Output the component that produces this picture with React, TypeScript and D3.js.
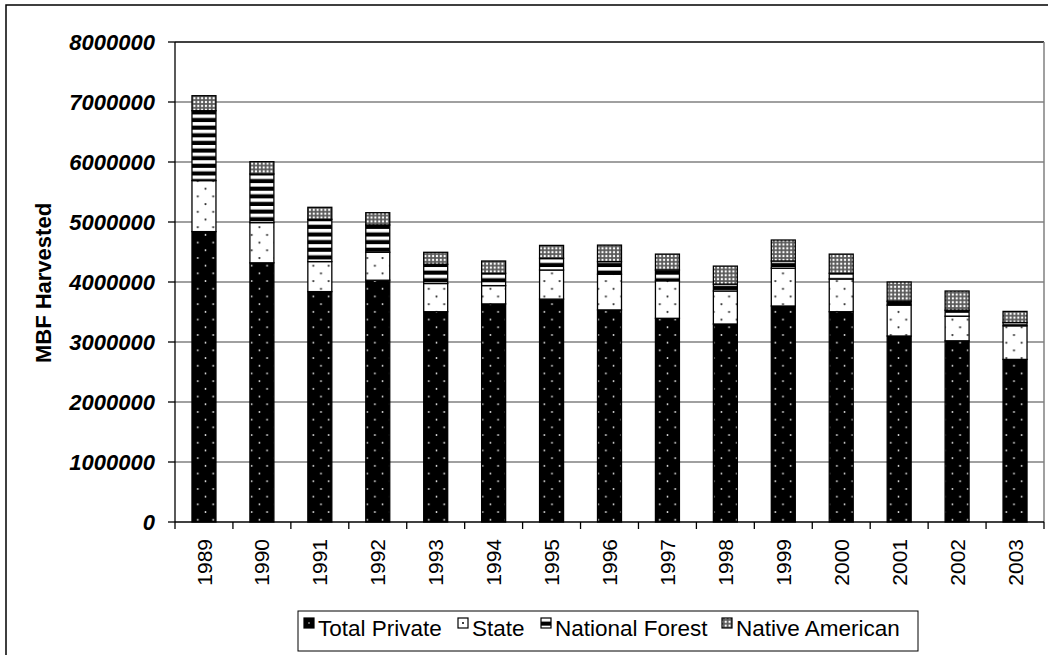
import React from "react";
import * as d3 from "d3";

// Annual timber harvest (MBF) by ownership class
const years = ["1989", "1990", "1991", "1992", "1993", "1994", "1995", "1996", "1997", "1998", "1999", "2000", "2001", "2002", "2003"];
const totalPrivate = [4840000, 4320000, 3840000, 4030000, 3505000, 3635000, 3715000, 3535000, 3395000, 3300000, 3600000, 3505000, 3100000, 3020000, 2710000];
const stateLand = [850000, 670000, 500000, 465000, 470000, 305000, 485000, 595000, 625000, 550000, 630000, 545000, 515000, 410000, 560000];
const nationalForest = [1165000, 810000, 705000, 455000, 320000, 205000, 195000, 210000, 180000, 115000, 120000, 95000, 65000, 100000, 55000];
const nativeAmerican = [250000, 205000, 200000, 205000, 200000, 205000, 215000, 275000, 265000, 300000, 350000, 320000, 320000, 320000, 185000];
const seriesNames = ["Total Private", "State", "National Forest", "Native American"];
const yTicks = [0, 1000000, 2000000, 3000000, 4000000, 5000000, 6000000, 7000000, 8000000];

const patternIds = ["pPrivate", "pState", "pForest", "pNative"];
const FONT = "'Liberation Sans', Arial, Helvetica, sans-serif";

export default function App() {
  const W = 1048;
  const H = 655;
  const plot = { left: 175, top: 42, right: 1044, bottom: 522 };

  const x = d3
    .scaleBand<string>()
    .domain(years)
    .range([plot.left, plot.right])
    .paddingInner(0.586)
    .paddingOuter(0.293);
  const y = d3.scaleLinear().domain([0, 8000000]).range([plot.bottom, plot.top]);

  const rows = years.map((yr, i) => ({
    year: yr,
    "Total Private": totalPrivate[i],
    State: stateLand[i],
    "National Forest": nationalForest[i],
    "Native American": nativeAmerican[i],
  }));
  const stacked = d3.stack<any>().keys(seriesNames)(rows);

  const step = x.step();
  const bw = x.bandwidth();
  const boundaries = years.map((yr) => (x(yr) as number) - (step - bw) / 2).concat([plot.right]);

  // legend layout
  const legendItems = [
    { name: seriesNames[0], icon: 304 },
    { name: seriesNames[1], icon: 458 },
    { name: seriesNames[2], icon: 541 },
    { name: seriesNames[3], icon: 722 },
  ];

  return (
    <svg
      width={W}
      height={H}
      style={{ position: "absolute", left: 0, top: 0, background: "#fff" }}
      fontFamily={FONT}
    >
      <defs>
        <pattern id="pPrivate" patternUnits="userSpaceOnUse" width={15.4} height={15.4}>
          <rect width={15.4} height={15.4} fill="#000" />
          <circle cx={5.3} cy={3.9} r={0.9} fill="#e6e6e6" />
          <circle cx={13} cy={11.6} r={0.9} fill="#e6e6e6" />
        </pattern>
        <pattern id="pState" patternUnits="userSpaceOnUse" width={15.4} height={15.4}>
          <rect width={15.4} height={15.4} fill="#fff" />
          <circle cx={5.3} cy={3.9} r={1.1} fill="#333" />
          <circle cx={13} cy={11.6} r={1.1} fill="#333" />
        </pattern>
        <pattern id="pForest" patternUnits="userSpaceOnUse" width={8} height={7.63}>
          <rect width={8} height={7.63} fill="#000" />
          <rect y={0} width={8} height={3.5} fill="#fff" />
        </pattern>
        <pattern id="pNative" patternUnits="userSpaceOnUse" width={3.85} height={3.85}>
          <rect width={3.85} height={3.85} fill="#5a5a5a" />
          <circle cx={1.9} cy={1.9} r={1.15} fill="#fff" />
        </pattern>
        <pattern id="pLegendState" patternUnits="userSpaceOnUse" x={458} y={618} width={10} height={10}>
          <rect width={10} height={10} fill="#fff" />
          <circle cx={5} cy={5} r={1} fill="#000" />
        </pattern>
        <pattern id="pLegendPrivate" patternUnits="userSpaceOnUse" x={304} y={618} width={10} height={10}>
          <rect width={10} height={10} fill="#000" />
          <circle cx={5} cy={5} r={0.8} fill="#ddd" />
        </pattern>
      </defs>

      {/* chart frame */}
      <rect x={6} y={5} width={1200} height={800} fill="#fff" stroke="#000" strokeWidth={1.5} />

      {/* gridlines */}
      {yTicks.slice(1, -1).map((t) => (
        <line key={t} x1={plot.left} x2={plot.right} y1={y(t)} y2={y(t)} stroke="#808080" strokeWidth={1.3} />
      ))}
      <line x1={plot.left} x2={plot.right} y1={plot.top} y2={plot.top} stroke="#000" strokeWidth={1.5} />
      <line x1={plot.right} x2={plot.right} y1={plot.top} y2={plot.bottom} stroke="#808080" strokeWidth={1.5} />

      {/* stacked bars */}
      {stacked.map((layer, si) => (
        <g key={layer.key}>
          {layer.map((d, i) => (
            <rect
              key={years[i]}
              x={x(years[i])}
              y={y(d[1])}
              width={bw}
              height={y(d[0]) - y(d[1])}
              fill={`url(#${patternIds[si]})`}
              stroke="#000"
              strokeWidth={1.3}
            />
          ))}
        </g>
      ))}

      {/* y axis */}
      <line x1={plot.left} x2={plot.left} y1={plot.top} y2={plot.bottom} stroke="#000" strokeWidth={1.3} />
      {yTicks.map((t) => (
        <g key={t}>
          <line x1={plot.left - 7} x2={plot.left} y1={y(t)} y2={y(t)} stroke="#000" strokeWidth={1.3} />
          <text
            x={155}
            y={y(t)}
            dy="0.36em"
            textAnchor="end"
            fontSize={22}
            fontWeight="bold"
            fontStyle="italic"
            fill="#000"
          >
            {t}
          </text>
        </g>
      ))}

      {/* x axis */}
      <line x1={plot.left} x2={plot.right} y1={plot.bottom} y2={plot.bottom} stroke="#000" strokeWidth={1.3} />
      {boundaries.map((b, i) => (
        <line key={i} x1={b} x2={b} y1={plot.bottom} y2={plot.bottom + 7} stroke="#000" strokeWidth={1.3} />
      ))}
      {years.map((yr) => {
        const cx = (x(yr) as number) + bw / 2;
        return (
          <text
            key={yr}
            transform={`translate(${cx},539) rotate(-90)`}
            dy="0.36em"
            textAnchor="end"
            fontSize={21}
            fill="#000"
          >
            {yr}
          </text>
        );
      })}

      {/* y axis title */}
      <text
        transform="translate(43.5,283) rotate(-90)"
        dy="0.36em"
        textAnchor="middle"
        fontSize={22}
        fontWeight="bold"
        fill="#000"
      >
        MBF Harvested
      </text>

      {/* legend */}
      <rect x={298} y={611} width={620} height={40} fill="#fff" stroke="#000" strokeWidth={1} />
      {legendItems.map((it, i) => {
        const fill =
          i === 0 ? "url(#pLegendPrivate)" : i === 1 ? "url(#pLegendState)" : `url(#${patternIds[i]})`;
        return (
          <g key={it.name}>
            <rect x={it.icon} y={618} width={10} height={10} fill={fill} stroke="#000" strokeWidth={1.2} />
            <text x={it.icon + 14} y={636} fontSize={22.5} fill="#000">
              {it.name}
            </text>
          </g>
        );
      })}
    </svg>
  );
}
